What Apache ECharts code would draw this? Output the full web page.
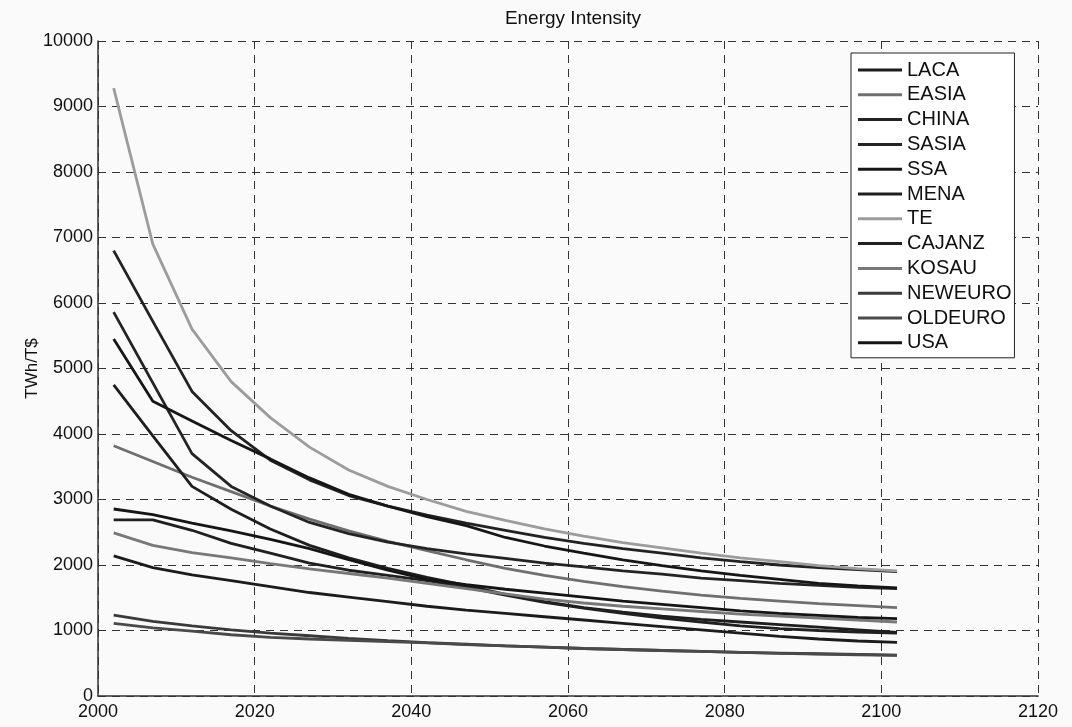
<!DOCTYPE html>
<html>
<head>
<meta charset="utf-8">
<title>Energy Intensity</title>
<script src="https://cdn.jsdelivr.net/npm/echarts@6/dist/echarts.min.js"></script>
<style>
  html, body { margin: 0; padding: 0; background: #fafafa; }
  #chart { width: 1072px; height: 727px; }
</style>
</head>
<body>
<div id="chart"></div>
<script>
// 5-year steps
var years = [2002, 2007, 2012, 2017, 2022, 2027, 2032, 2037, 2042, 2047, 2052,
             2057, 2062, 2067, 2072, 2077, 2082, 2087, 2092, 2097, 2102];

var regions = ['LACA', 'EASIA', 'CHINA', 'SASIA', 'SSA', 'MENA', 'TE',
               'CAJANZ', 'KOSAU', 'NEWEURO', 'OLDEURO', 'USA'];

// TWh/T$
var laca    = [2140, 1960, 1850, 1760, 1670, 1580, 1510, 1440, 1370, 1310, 1260, 1210, 1160, 1110, 1060, 1010, 960, 910, 870, 840, 820];
var easia   = [3820, 3580, 3340, 3120, 2900, 2700, 2520, 2360, 2220, 2080, 1950, 1840, 1750, 1670, 1600, 1540, 1490, 1450, 1410, 1380, 1350];
var china   = [6800, 5720, 4650, 4050, 3600, 3300, 3060, 2900, 2760, 2640, 2530, 2420, 2330, 2250, 2180, 2110, 2050, 2000, 1960, 1930, 1900];
var sasia   = [5860, 4780, 3700, 3200, 2900, 2650, 2480, 2350, 2250, 2170, 2100, 2030, 1970, 1910, 1860, 1800, 1760, 1720, 1690, 1660, 1640];
var ssa     = [5450, 4500, 4200, 3900, 3620, 3330, 3080, 2900, 2740, 2600, 2420, 2290, 2180, 2080, 1990, 1910, 1840, 1780, 1720, 1680, 1650];
var mena    = [4750, 3970, 3200, 2850, 2550, 2300, 2110, 1950, 1810, 1690, 1550, 1440, 1350, 1280, 1220, 1170, 1130, 1090, 1050, 1010, 970];
var te      = [9280, 6900, 5600, 4800, 4250, 3800, 3450, 3200, 3000, 2820, 2680, 2550, 2440, 2340, 2260, 2180, 2110, 2050, 1990, 1945, 1910];
var cajanz  = [2690, 2690, 2530, 2330, 2180, 2030, 1920, 1840, 1760, 1660, 1540, 1430, 1340, 1260, 1190, 1130, 1070, 1030, 1000, 975, 960];
var kosau   = [2490, 2300, 2190, 2110, 2020, 1940, 1870, 1800, 1720, 1640, 1560, 1480, 1420, 1370, 1330, 1290, 1250, 1220, 1190, 1160, 1130];
var neweuro = [1235, 1140, 1070, 1010, 960, 920, 880, 845, 815, 790, 765, 745, 725, 710, 695, 680, 665, 655, 645, 635, 625];
var oldeuro = [1110, 1040, 990, 935, 895, 870, 850, 830, 810, 785, 765, 745, 725, 710, 695, 680, 665, 650, 640, 630, 620];
var usa     = [2855, 2770, 2640, 2520, 2390, 2250, 2080, 1920, 1780, 1700, 1630, 1570, 1510, 1450, 1400, 1350, 1300, 1260, 1230, 1200, 1180];

var xTicks = [2000, 2020, 2040, 2060, 2080, 2100, 2120];
var yTicks = [0, 1000, 2000, 3000, 4000, 5000, 6000, 7000, 8000, 9000, 10000];

var values = [laca, easia, china, sasia, ssa, mena, te, cajanz, kosau, neweuro, oldeuro, usa];
var colors = ['#1c1c1c', '#6f6f6f', '#222222', '#242424', '#161616', '#1e1e1e', '#9c9c9c',
              '#202020', '#787878', '#3a3a3a', '#4a4a4a', '#151515'];

var font = 'Liberation Sans, Arial, Helvetica, sans-serif';

var series = regions.map(function (name, i) {
    return {
        name: name,
        type: 'line',
        symbol: 'none',
        smooth: false,
        color: colors[i],
        lineStyle: { width: 2.8, color: colors[i] },
        data: years.map(function (y, k) { return [y, values[i][k]]; })
    };
});

var myChart = echarts.init(document.getElementById('chart'));

var option = {
    backgroundColor: '#fafafa',
    animation: false,
    title: {
        text: 'Energy Intensity',
        left: 568,
        textAlign: 'center',
        top: 4,
        textStyle: { fontFamily: font, fontSize: 19, fontWeight: 'normal', color: '#111' }
    },
    legend: {
        orient: 'vertical',
        left: 851,
        top: 53,
        data: regions,
        icon: 'rect',
        itemWidth: 44,
        itemHeight: 3,
        itemGap: 4.8,
        itemTextGap: 5,
        padding: [7, 3, 5, 7],
        backgroundColor: '#ffffff',
        borderColor: '#222',
        borderWidth: 1,
        borderRadius: 0,
        textStyle: { fontFamily: font, fontSize: 20, lineHeight: 20, color: '#111' }
    },
    grid: { left: 98, right: 34, top: 41, bottom: 31 },
    xAxis: {
        type: 'value',
        min: xTicks[0],
        max: xTicks[xTicks.length - 1],
        interval: 20,
        axisLine: { show: true, lineStyle: { color: '#333', width: 1.5 } },
        axisTick: { show: false },
        axisLabel: {
            fontFamily: font, fontSize: 18, color: '#111', margin: 7,
            formatter: function (v) { return String(v); }
        },
        splitLine: { show: true, lineStyle: { color: '#333', type: [8, 6], width: 1 } }
    },
    yAxis: {
        type: 'value',
        min: yTicks[0],
        max: yTicks[yTicks.length - 1],
        interval: 1000,
        name: 'TWh/T$',
        nameLocation: 'middle',
        nameGap: 57,
        nameMoveOverlap: false,
        nameTextStyle: { fontFamily: font, fontSize: 17, color: '#111' },
        axisLine: { show: true, lineStyle: { color: '#333', width: 1.5 } },
        axisTick: { show: false },
        axisLabel: {
            fontFamily: font, fontSize: 18, color: '#111', margin: 5,
            formatter: function (v) { return String(v); }
        },
        splitLine: { show: true, lineStyle: { color: '#333', type: [8, 6], width: 1 } }
    },
    series: series
};

myChart.setOption(option);
</script>
</body>
</html>
